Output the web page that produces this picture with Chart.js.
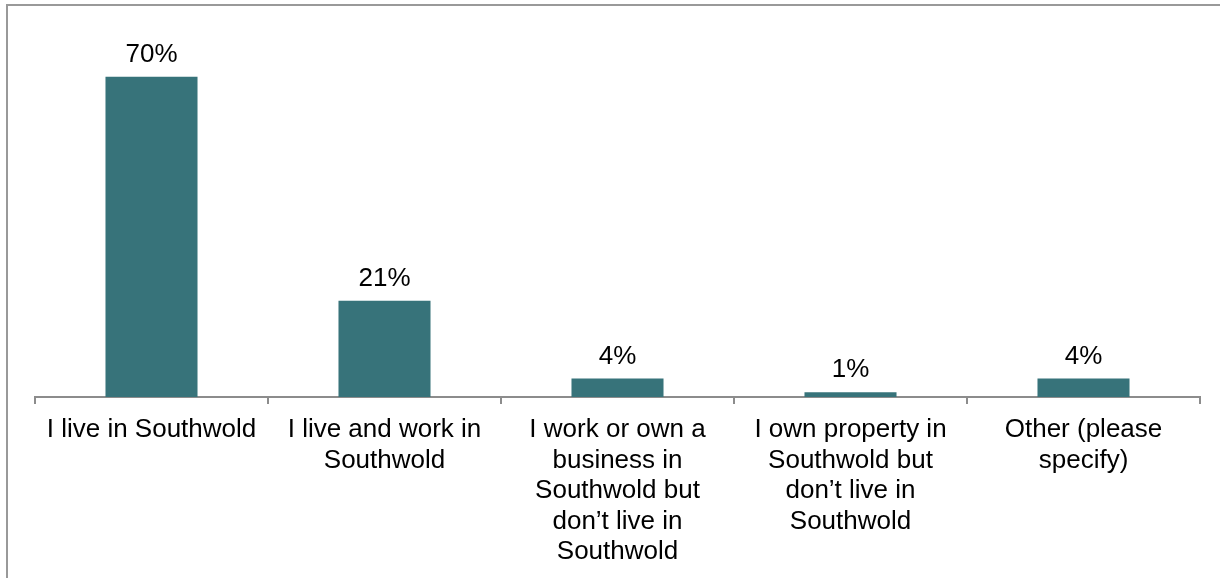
<!DOCTYPE html>
<html>
<head>
<meta charset="utf-8">
<script src="https://cdn.jsdelivr.net/npm/chart.js@4.4.1/dist/chart.umd.min.js"></script>
<style>
  html, body { margin: 0; padding: 0; background: #fff; }
  #wrap { position: relative; width: 1220px; height: 578px; }
  #frame { position: absolute; left: 6px; top: 4px; right: 0; bottom: -4px;
           border-left: 2px solid #999; border-top: 2px solid #999; }
</style>
</head>
<body>
<div id="wrap">
  <div id="frame"></div>
  <canvas id="myChart" width="1220" height="578"></canvas>
</div>
<script>
var categories = [
    ['I live in Southwold'],
    ['I live and work in', 'Southwold'],
    ['I work or own a', 'business in', 'Southwold but', 'don\u2019t live in', 'Southwold'],
    ['I own property in', 'Southwold but', 'don\u2019t live in', 'Southwold'],
    ['Other (please', 'specify)']
];
var percents = [70, 21, 4, 1, 4];

var barColor = '#37737a';
var axisColor = '#8c8c8c';

// draws the "70%" style labels over the bars
var valueLabels = {
    id: 'valueLabels',
    afterDatasetsDraw: function(chart) {
        var ctx = chart.ctx;
        var meta = chart.getDatasetMeta(0);
        ctx.save();
        ctx.font = '26px "Liberation Sans", Arial, sans-serif';
        ctx.fillStyle = '#000';
        ctx.textAlign = 'center';
        ctx.textBaseline = 'alphabetic';
        meta.data.forEach(function(bar, i) {
            ctx.fillText(percents[i] + '%', bar.x, bar.y - 15);
        });
        ctx.restore();
    }
};

var ctx = document.getElementById('myChart').getContext('2d');
var myChart = new Chart(ctx, {
    type: 'bar',
    data: {
        labels: categories,
        datasets: [{
            label: 'Percent',
            data: percents,
            backgroundColor: barColor,
            categoryPercentage: 1,
            barPercentage: 0.395
        }]
    },
    options: {
        responsive: false,
        animation: false,
        layout: {
            padding: { left: 35, right: 20, top: 31, bottom: 0 }
        },
        plugins: {
            legend: { display: false },
            tooltip: { enabled: false }
        },
        scales: {
            x: {
                grid: {
                    offset: true,
                    drawOnChartArea: false,
                    tickLength: 7,
                    color: axisColor,
                    lineWidth: 2
                },
                border: { color: axisColor, width: 2 },
                ticks: {
                    color: '#000',
                    padding: 11,
                    autoSkip: false,
                    maxRotation: 0,
                    font: { family: '"Liberation Sans", Arial, sans-serif', size: 26, lineHeight: 1.17 }
                }
            },
            y: {
                display: false,
                min: 0,
                max: 80
            }
        }
    },
    plugins: [valueLabels]
});
</script>
</body>
</html>
